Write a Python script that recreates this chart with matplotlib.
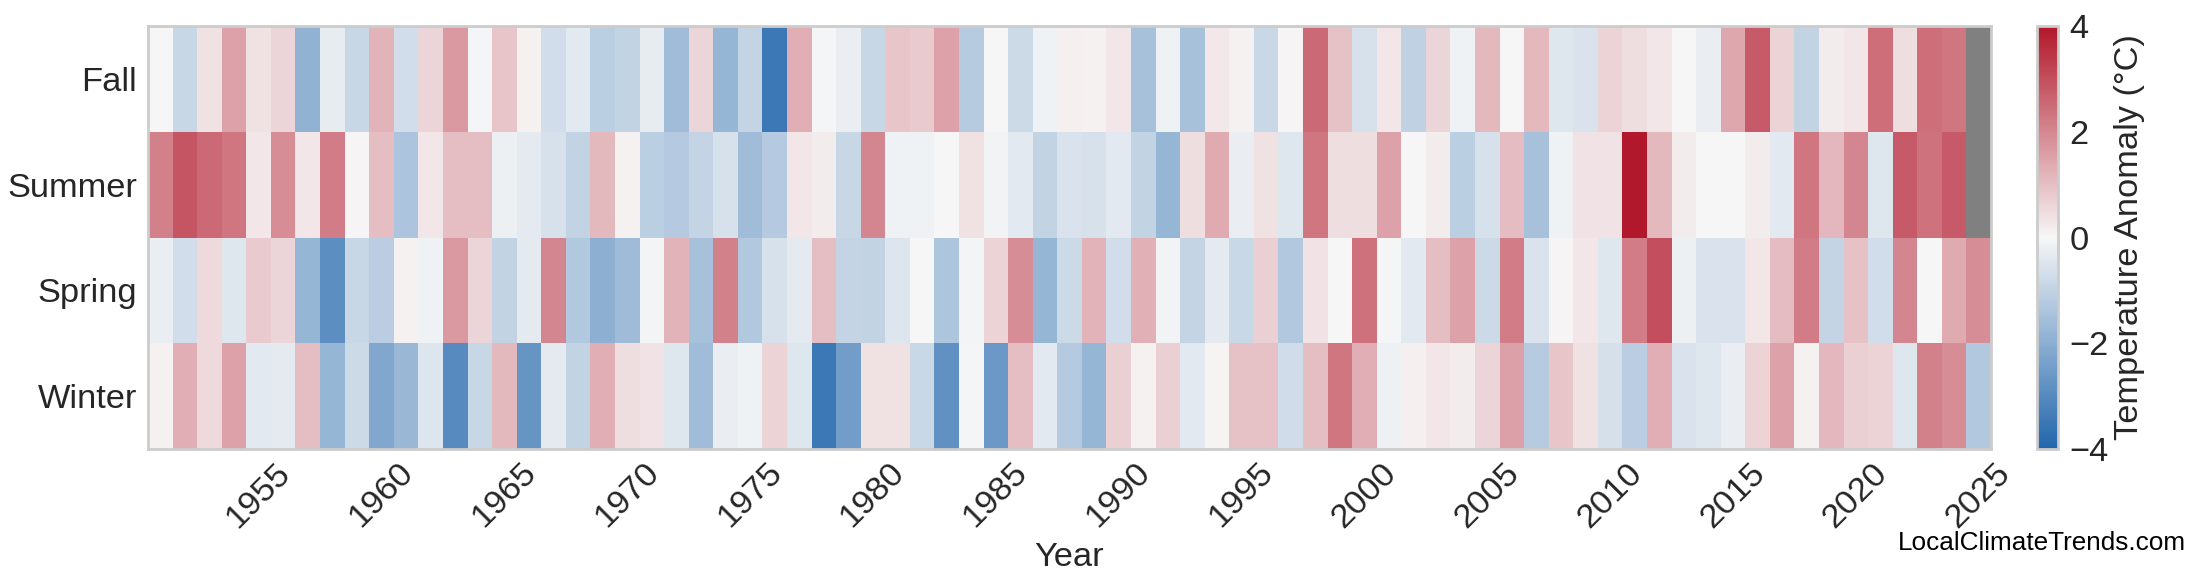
import numpy as np
import matplotlib
matplotlib.use("Agg")
from matplotlib import pyplot as plt
from matplotlib.colors import LinearSegmentedColormap

plt.rcParams['font.family'] = ['Liberation Sans', 'DejaVu Sans']

years = list(range(1951, 2026))
seasons = ['Fall', 'Summer', 'Spring', 'Winter']

nan = float('nan')

fall = [0.0, -0.9, 0.4, 1.5, 0.4, 0.6, -1.9, -0.3, -0.9, 1.2,
        -0.7, 0.6, 1.7, -0.05, 0.9, 0.1, -0.7, -0.4, -1.1, -1.0,
        -0.3, -1.6, 0.6, -1.8, -0.95, -3.5, 1.3, -0.05, -0.25, -0.9,
        0.9, 0.8, 1.5, -1.2, 0.0, -0.8, -0.15, 0.15, 0.1, 0.3,
        -1.5, -0.15, -1.5, 0.25, 0.1, -0.85, 0.05, 2.5, 0.95, -0.6,
        0.3, -1.05, 0.6, -0.15, 1.1, -0.03, 1.1, -0.45, -0.55, 0.65,
        0.45, 0.3, 0.03, -0.25, 1.45, 2.8, 0.65, -1.0, 0.2, 0.3,
        2.45, 0.45, 2.45, 2.3, nan]

summer = [2.1, 2.9, 2.5, 2.3, 0.3, 1.9, 0.3, 2.2, 0.05, 1.0,
          -1.4, 0.3, 1.0, 1.0, -0.2, -0.35, -0.6, -1.0, 1.1, 0.1,
          -1.1, -1.25, -0.95, -0.6, -1.6, -1.25, 0.3, 0.2, -0.9, 2.0,
          -0.15, -0.15, 0.0, 0.4, -0.1, -0.4, -1.0, -0.55, -0.6, -0.4,
          -1.0, -1.8, 0.45, 1.35, -0.25, 0.4, -0.45, 2.3, 0.45, 0.45,
          1.5, 0.03, 0.2, -1.1, -0.6, 1.05, -1.5, -0.15, 0.35, 0.35,
          4.0, 1.1, 0.2, 0.03, -0.03, 0.2, -0.4, 2.3, 1.15, 2.0,
          -0.45, 2.8, 2.35, 2.8, nan]

spring = [-0.25, -0.7, 0.5, -0.45, 0.8, 0.6, -1.8, -2.9, -0.9, -1.15,
          0.1, -0.15, 1.7, 0.6, -1.0, -0.35, 2.0, -1.3, -2.0, -1.65,
          -0.08, 1.2, -1.5, 2.1, -1.3, -0.6, -0.35, 1.0, -0.95, -1.0,
          -0.5, 0.0, -1.35, -0.08, 0.65, 1.9, -1.8, -0.8, 1.2, -0.7,
          1.25, -0.1, -0.95, -0.35, -0.85, 0.7, -1.3, 0.35, -0.03, 2.4,
          -0.05, -0.4, 1.0, 1.5, -0.8, 2.2, -0.55, 0.05, 0.3, -0.45,
          2.2, 3.0, -0.2, -0.55, -0.55, 0.3, 1.05, 2.2, -0.95, 0.95,
          -0.7, 2.0, 0.0, 1.35, 1.9]

winter = [0.1, 1.3, 0.5, 1.5, -0.4, -0.35, 1.0, -1.8, -0.8, -2.2,
          -1.75, -0.5, -3.0, -0.9, 1.1, -2.7, -0.35, -1.0, 1.3, 0.45,
          0.35, -0.45, -1.6, -0.25, -0.15, 0.65, -0.45, -3.5, -2.5, 0.4,
          0.4, -0.85, -2.8, -0.05, -2.6, 1.0, -0.4, -1.25, -1.8, 0.7,
          0.1, 0.7, -0.4, 0.08, 0.95, 0.95, -0.75, 1.0, 2.3, 1.3,
          -0.18, 0.15, 0.3, 0.2, 0.6, 1.55, -1.2, 0.9, 0.4, -0.65,
          -1.15, 1.3, -0.55, -0.45, -0.25, 0.65, 1.5, 0.1, 1.15, 0.7,
          0.65, -0.45, 2.1, 1.9, -1.3]

tick_years = list(range(1955, 2026, 5))

data = np.ma.masked_invalid(np.array([fall, summer, spring, winter]))

cmap = LinearSegmentedColormap.from_list('anom', ['#2166ac', '#f7f7f7', '#b2182b'])
cmap.set_bad('#808080')

fs = 12.4

fig = plt.figure(figsize=(11, 2.925), dpi=200)
ax = fig.add_axes([0.0673, 0.2325, 0.8377, 0.723])
cax = fig.add_axes([0.926, 0.2325, 0.0095, 0.723])

mesh = ax.pcolormesh(data, cmap=cmap, vmin=-4, vmax=4)
ax.set_xlim(0, len(years))
ax.set_ylim(len(seasons), 0)

xpos = [years.index(y) + 0.5 for y in tick_years]
ax.set_xticks(xpos)
ax.set_xticklabels([str(y) for y in tick_years], rotation=45, ha='center', fontsize=fs, color='#262626')
ax.set_yticks(np.arange(len(seasons)) + 0.5)
ax.set_yticklabels(seasons, fontsize=fs, color='#262626')
ax.tick_params(axis='both', length=0)
ax.tick_params(axis='y', pad=4)
ax.tick_params(axis='x', pad=3)
ax.set_xlabel('Year', fontsize=fs, color='#262626', labelpad=3)
for s in ax.spines.values():
    s.set_color('#cccccc')
    s.set_linewidth(1.0)

cb = fig.colorbar(mesh, cax=cax, ticks=[-4, -2, 0, 2, 4])
cb.outline.set_edgecolor('#cccccc')
cb.outline.set_linewidth(1.0)
cb.ax.tick_params(length=0, labelsize=fs, labelcolor='#262626', pad=4)
cb.set_label('Temperature Anomaly (°C)', fontsize=fs, color='#262626', labelpad=2)

fig.text(0.9935, 0.072, 'LocalClimateTrends.com', ha='right', va='center', fontsize=9.4,
         family=['Liberation Sans Narrow', 'Liberation Sans', 'DejaVu Sans'], color='black')

fig.savefig('out.png', dpi=200)
